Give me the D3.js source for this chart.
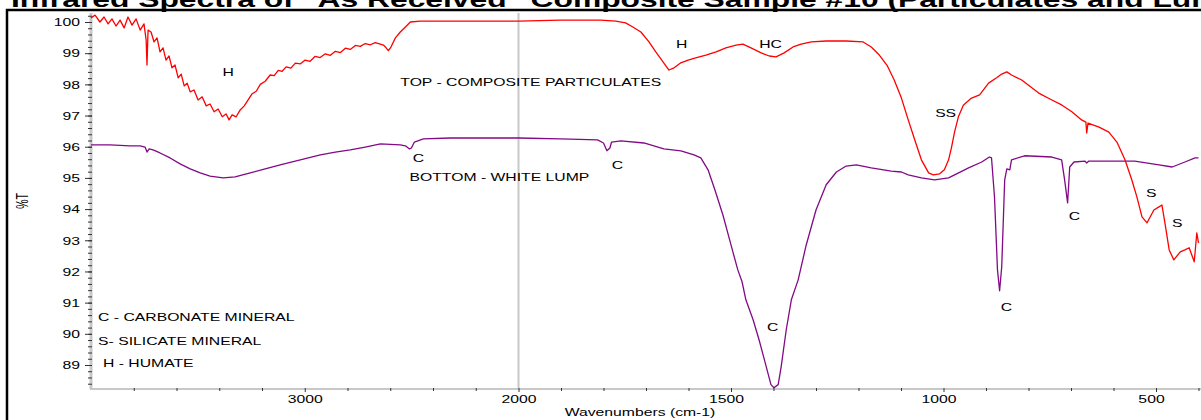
<!DOCTYPE html>
<html>
<head>
<meta charset="utf-8">
<script src="https://cdn.jsdelivr.net/npm/d3@7"></script>
<style>
body { margin: 0; background: #fff; }
svg text { font-family: "Liberation Sans", Arial, sans-serif; fill: #000; }
</style>
</head>
<body>
<svg id="chart" width="1201" height="420"></svg>
<script>
// data: [wavenumber cm-1, %T]
var topSeries = [
    [4000,100.13],[3981,100.22],[3958,100.0],[3939,100.16],[3920,99.94],[3902,100.1],[3883,99.87],
    [3864,100.06],[3845,99.81],[3827,100.16],[3808,99.9],[3789,100.1],[3770,99.74],[3752,99.94],
    [3742,99.42],[3738,98.62],[3733,99.74],[3719,99.68],[3705,99.36],[3691,99.49],[3677,99.04],
    [3663,99.17],[3649,98.78],[3635,98.91],[3621,98.53],[3607,98.62],[3592,98.21],[3578,98.33],
    [3564,97.95],[3550,98.04],[3536,97.76],[3518,97.82],[3499,97.5],[3480,97.6],[3461,97.31],
    [3443,97.37],[3424,97.12],[3405,97.21],[3386,96.96],[3368,97.05],[3354,96.86],[3340,97.02],
    [3321,96.96],[3302,97.18],[3283,97.31],[3265,97.5],[3246,97.7],[3227,97.78],[3208,98.0],
    [3185,98.1],[3162,98.3],[3143,98.28],[3124,98.45],[3106,98.42],[3087,98.56],[3065,98.52],
    [3044,98.68],[3020,98.66],[2998,98.78],[2975,98.74],[2951,98.9],[2928,98.86],[2904,98.98],
    [2880,98.93],[2857,99.06],[2833,99.02],[2810,99.16],[2787,99.12],[2763,99.25],[2740,99.22],
    [2717,99.31],[2693,99.27],[2670,99.34],[2650,99.3],[2632,99.26],[2620,99.18],[2609,99.08],
    [2600,99.16],[2595,99.22],[2576,99.49],[2553,99.68],[2529,99.84],[2506,100.0],[2459,100.03],
    [2272,100.03],[2000,100.03],[1901,100.06],[1807,100.06],[1771,100.03],[1748,99.97],[1731,99.84],
    [1712,99.68],[1693,99.36],[1677,99.04],[1660,98.72],[1646,98.46],[1634,98.53],[1618,98.69],
    [1601,98.78],[1583,98.85],[1559,98.94],[1535,99.04],[1512,99.17],[1488,99.26],[1472,99.29],
    [1453,99.17],[1429,99.01],[1410,98.91],[1394,98.88],[1375,99.01],[1354,99.2],[1335,99.29],
    [1311,99.36],[1276,99.39],[1229,99.39],[1189,99.36],[1170,99.2],[1151,98.94],[1132,98.59],
    [1116,98.14],[1099,97.56],[1083,96.86],[1066,96.15],[1052,95.58],[1035,95.16],[1024,95.1],
    [1009,95.13],[998,95.26],[988,95.58],[981,95.99],[974,96.47],[965,96.96],[953,97.34],
    [934,97.56],[915,97.66],[894,98.04],[875,98.21],[863,98.33],[851,98.4],[840,98.3],[816,98.14],
    [776,97.72],[745,97.5],[722,97.34],[698,97.12],[675,96.86],[665,96.79],[663,96.44],[660,96.76],
    [634,96.63],[611,96.47],[592,96.15],[573,95.58],[557,94.94],[545,94.39],[533,93.75],[521,93.56],
    [505,93.97],[493,94.07],[486,94.13],[479,93.56],[469,92.69],[458,92.37],[443,92.63],[432,92.69],
    [422,92.76],[410,92.31],[404,93.24],[400,92.92]
];

var bottomSeries = [
    [4000,96.06],[3911,96.06],[3817,96.03],[3770,96.03],[3747,95.99],[3738,95.83],[3728,95.93],
    [3710,95.9],[3677,95.8],[3630,95.64],[3583,95.45],[3536,95.29],[3489,95.16],[3443,95.06],
    [3382,95.0],[3326,95.03],[3255,95.16],[3185,95.29],[3115,95.42],[3021,95.58],[2927,95.74],
    [2857,95.83],[2787,95.9],[2717,95.99],[2646,96.09],[2553,96.06],[2529,96.03],[2510,95.93],
    [2501,95.96],[2487,96.15],[2445,96.25],[2318,96.28],[2178,96.28],[2000,96.28],[1901,96.25],
    [1814,96.22],[1800,96.12],[1792,95.87],[1785,95.96],[1781,96.15],[1759,96.19],[1705,96.12],
    [1658,95.93],[1618,95.87],[1587,95.74],[1571,95.64],[1554,95.26],[1538,94.62],[1519,93.81],
    [1500,92.85],[1484,92.05],[1474,91.67],[1465,91.09],[1448,90.45],[1434,89.81],[1417,88.94],
    [1406,88.37],[1399,88.27],[1389,88.37],[1382,88.94],[1370,90.13],[1358,91.09],[1342,91.73],
    [1323,92.85],[1300,93.97],[1276,94.78],[1252,95.19],[1229,95.38],[1205,95.42],[1170,95.32],
    [1123,95.22],[1099,95.19],[1083,95.1],[1052,95.0],[1021,94.94],[988,95.0],[941,95.32],
    [910,95.51],[892,95.67],[887,95.64],[880,94.39],[873,92.05],[868,91.38],[863,92.15],
    [856,94.94],[851,95.29],[844,95.26],[840,95.58],[809,95.71],[745,95.67],[722,95.58],
    [715,94.94],[708,94.2],[703,95.35],[693,95.51],[667,95.54],[663,95.48],[658,95.54],
    [604,95.54],[550,95.54],[493,95.42],[462,95.35],[432,95.51],[408,95.64],[400,95.64]
];

var yMajor = [89, 90, 91, 92, 93, 94, 95, 96, 97, 98, 99, 100];
var yMinor = d3.range(88.4, 100.21, 0.2);
var xMajor = [3000, 2000, 1500, 1000, 500];
var xMinor = [3800, 3600, 3400, 3200, 2800, 2600, 2400, 2200,
    1900, 1800, 1700, 1600, 1400, 1300, 1200, 1100, 900, 800, 700, 600, 400];

// peak markers and notes: [text, wavenumber, %T, anchor]
var notes = [
    ['H', 3358, 98.27, 'middle'],
    ['TOP - COMPOSITE PARTICULATES', 2553, 97.95, 'start'],
    ['C', 2468, 95.51, 'middle'],
    ['C', 1767, 95.29, 'middle'],
    ['BOTTOM - WHITE LUMP', 2510, 94.9, 'start'],
    ['H', 1616, 99.17, 'middle'],
    ['HC', 1407, 99.17, 'middle'],
    ['SS', 995, 96.95, 'middle'],
    ['C', 692, 93.65, 'middle'],
    ['C', 852, 90.73, 'middle'],
    ['S', 511, 94.39, 'middle'],
    ['S', 450, 93.43, 'middle'],
    ['C', 1402, 90.09, 'middle'],
    ['C - CARBONATE MINERAL', 3967, 90.41, 'start'],
    ['S- SILICATE MINERAL', 3967, 89.64, 'start'],
    ['H - HUMATE', 3944, 88.94, 'start']
];

var title = 'Infrared Spectra of "As Received" Composite Sample #10 (Particulates and Lump)';

var svg = d3.select('#chart');
var sx = 1.5;     // the original text is stretched sideways
var fs = '10.5px';

// x axis is expanded 2x below 2000 cm-1
var x = d3.scaleLinear().domain([4000, 2000, 400]).range([91, 518.5, 1198.5]);
var y = d3.scaleLinear().domain([100, 89]).range([22, 365]);
var top_ = 13, bottom = 389;

svg.append('rect')
    .attr('x', 7).attr('y', 10)
    .attr('width', 1220).attr('height', 430)
    .attr('fill', 'none')
    .attr('stroke', '#000')
    .attr('stroke-width', 2.5);

svg.append('text')
    .attr('transform', 'translate(11,7) scale(' + sx + ',1)')
    .style('font-size', '21.2px')
    .style('font-weight', 'bold')
    .text(title);

// grey axis bars and the 2000 divider
svg.append('line')
    .attr('x1', 91).attr('x2', 91)
    .attr('y1', top_).attr('y2', bottom)
    .attr('stroke', '#c8c8c8').attr('stroke-width', 3);
svg.append('line')
    .attr('x1', 90).attr('x2', 1201)
    .attr('y1', bottom).attr('y2', bottom)
    .attr('stroke', '#c8c8c8').attr('stroke-width', 2);
svg.append('line')
    .attr('x1', x(2000)).attr('x2', x(2000))
    .attr('y1', top_).attr('y2', bottom)
    .attr('stroke', '#c8c8c8').attr('stroke-width', 2);

function tickStyle(g) {
    g.select('.domain').remove();
    g.selectAll('.tick line').attr('stroke', '#333').attr('stroke-width', 1);
}

var yMinorG = svg.append('g')
    .attr('transform', 'translate(92,0)')
    .call(d3.axisLeft(y).tickValues(yMinor).tickSize(4).tickFormat(''))
    .call(tickStyle);

var yG = svg.append('g')
    .attr('transform', 'translate(92,0)')
    .call(d3.axisLeft(y).tickValues(yMajor).tickSize(7))
    .call(tickStyle);
yG.selectAll('.tick text')
    .attr('x', null)
    .attr('dy', '0.36em')
    .attr('transform', 'translate(-12,0) scale(' + sx + ',1)')
    .style('font-size', fs)
    .style('font-family', null)
    .attr('fill', '#000');

svg.append('g')
    .attr('transform', 'translate(0,' + (bottom - 1) + ')')
    .call(d3.axisBottom(x).tickValues(xMinor).tickSize(3).tickFormat(''))
    .call(tickStyle);

var xG = svg.append('g')
    .attr('transform', 'translate(0,' + (bottom - 1) + ')')
    .call(d3.axisBottom(x).tickValues(xMajor).tickSize(4).tickFormat(d3.format('d')))
    .call(tickStyle);
xG.selectAll('.tick text')
    .attr('y', null)
    .attr('dy', null)
    .attr('transform', function (d) {
        var dx = d < 2000 ? -5 : 0;
        return 'translate(' + dx + ',15) scale(' + sx + ',1)';
    })
    .style('font-size', fs)
    .style('font-family', null)
    .attr('fill', '#000');

svg.append('text')
    .attr('transform', 'translate(28,201) scale(' + sx + ',1) rotate(-90)')
    .attr('text-anchor', 'middle')
    .style('font-size', fs)
    .text('%T');

svg.append('text')
    .attr('transform', 'translate(640,416) scale(' + sx + ',1)')
    .attr('text-anchor', 'middle')
    .style('font-size', fs)
    .text('Wavenumbers (cm-1)');

var line = d3.line()
    .x(function (d) { return x(d[0]); })
    .y(function (d) { return y(d[1]); });

svg.append('path')
    .datum(bottomSeries)
    .attr('d', line)
    .attr('fill', 'none')
    .attr('stroke', '#820a86')
    .attr('stroke-width', 1.3)
    .attr('stroke-linejoin', 'round');

svg.append('path')
    .datum(topSeries)
    .attr('d', line)
    .attr('fill', 'none')
    .attr('stroke', '#ff0000')
    .attr('stroke-width', 1.3)
    .attr('stroke-linejoin', 'round');

svg.selectAll('text.note')
    .data(notes)
    .enter()
    .append('text')
    .classed('note', true)
    .attr('text-anchor', function (d) { return d[3]; })
    .attr('transform', function (d) {
        return 'translate(' + x(d[1]) + ',' + y(d[2]) + ') scale(' + sx + ',1)';
    })
    .style('font-size', fs)
    .text(function (d) { return d[0]; });
</script>
</body>
</html>
